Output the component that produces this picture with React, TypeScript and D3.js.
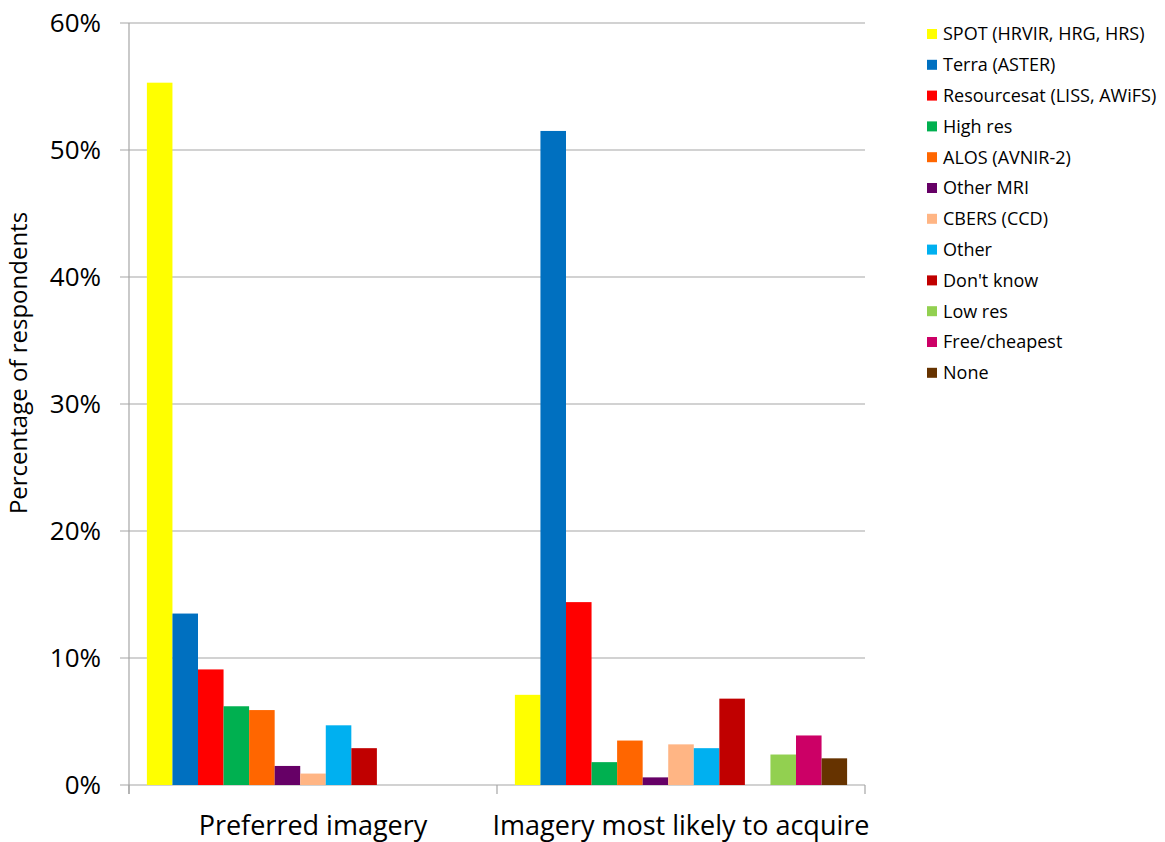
import React from "react";
import * as d3 from "d3";

// Survey answers, percent of respondents
const categories = ["Preferred imagery", "Imagery most likely to acquire"];
const seriesNames = [
  "SPOT (HRVIR, HRG, HRS)",
  "Terra (ASTER)",
  "Resourcesat (LISS, AWiFS)",
  "High res",
  "ALOS (AVNIR-2)",
  "Other MRI",
  "CBERS (CCD)",
  "Other",
  "Don't know",
  "Low res",
  "Free/cheapest",
  "None",
];
const seriesColors = [
  "#FFFF00", "#0070C0", "#FF0000", "#00B050", "#FF6600", "#660066",
  "#FFB584", "#00B0F0", "#C00000", "#92D050", "#CC0066", "#663300",
];
const preferredValues = [55.3, 13.5, 9.1, 6.2, 5.9, 1.5, 0.9, 4.7, 2.9, 0, 0, 0];
const acquireValues = [7.1, 51.5, 14.4, 1.8, 3.5, 0.6, 3.2, 2.9, 6.8, 2.4, 3.9, 2.1];
// Slot order inside each category; the blank slot leaves an empty gap
const slotOrder = [
  "SPOT (HRVIR, HRG, HRS)", "Terra (ASTER)", "Resourcesat (LISS, AWiFS)", "High res",
  "ALOS (AVNIR-2)", "Other MRI", "CBERS (CCD)", "Other", "Don't know", "",
  "Low res", "Free/cheapest", "None",
];
const yTicks = [0, 10, 20, 30, 40, 50, 60];

const W = 1165;
const H = 842;
const FONT = "'Open Sans', sans-serif";

export default function App() {
  const left = 129;
  const right = 865;
  const top = 23;
  const bottom = 785;

  const x0 = d3.scaleBand<string>().domain(categories).range([left, right]).paddingInner(0).paddingOuter(0);
  const x1 = d3
    .scaleBand<string>()
    .domain(slotOrder)
    .range([0, x0.bandwidth()])
    .paddingInner(0)
    .paddingOuter(0.7);
  const y = d3.scaleLinear().domain([0, 60]).range([bottom, top]);

  const valuesByCat = [preferredValues, acquireValues];
  const gridColor = "#A6A6A6";

  return (
    <svg width={W} height={H} style={{ position: "absolute", left: 0, top: 0, background: "#fff" }}>
      {/* gridlines */}
      {yTicks.map((t) => (
        <line key={"g" + t} x1={left - 9} x2={right} y1={y(t)} y2={y(t)} stroke={gridColor} strokeWidth={1.2} />
      ))}
      {/* y axis */}
      <line x1={left} x2={left} y1={top} y2={bottom + 9} stroke={gridColor} strokeWidth={1.2} />
      {/* x axis ticks at category boundaries */}
      {[left, x0(categories[1])!, right].map((xx, i) => (
        <line key={"xt" + i} x1={xx} x2={xx} y1={bottom} y2={bottom + 9} stroke={gridColor} strokeWidth={1.2} />
      ))}
      {/* bars */}
      {categories.map((c, ci) =>
        seriesNames.map((s, si) => {
          const v = valuesByCat[ci][si];
          if (!v) return null;
          const bx = x0(c)! + x1(s)!;
          return (
            <rect
              key={c + s}
              x={bx}
              y={y(v)}
              width={x1.bandwidth()}
              height={y(0) - y(v)}
              fill={seriesColors[si]}
            />
          );
        })
      )}
      {/* y tick labels */}
      {yTicks.map((t) => (
        <text
          key={"yl" + t}
          x={101}
          y={y(t)}
          dy="0.35em"
          textAnchor="end"
          fontFamily={FONT}
          fontSize={26}
          fill="#000"
        >
          {t}%
        </text>
      ))}
      {/* category labels */}
      {categories.map((c) => (
        <text
          key={"cl" + c}
          x={x0(c)! + x0.bandwidth() / 2}
          y={835}
          textAnchor="middle"
          fontFamily={FONT}
          fontSize={27}
          fill="#000"
        >
          {c}
        </text>
      ))}
      {/* y axis title */}
      <text
        transform={`translate(27, ${(top + bottom) / 2 - 41}) rotate(-90)`}
        textAnchor="middle"
        fontFamily={FONT}
        fontSize={24}
        fill="#000"
      >
        Percentage of respondents
      </text>
      {/* legend */}
      {seriesNames.map((s, i) => {
        const ly = 34 + i * 30.8;
        return (
          <g key={"lg" + s}>
            <rect x={927} y={ly - 5} width={10} height={10} fill={seriesColors[i]} />
            <text x={943} y={ly} dy="0.35em" fontFamily={FONT} fontSize={18} fill="#000">
              {s}
            </text>
          </g>
        );
      })}
    </svg>
  );
}
